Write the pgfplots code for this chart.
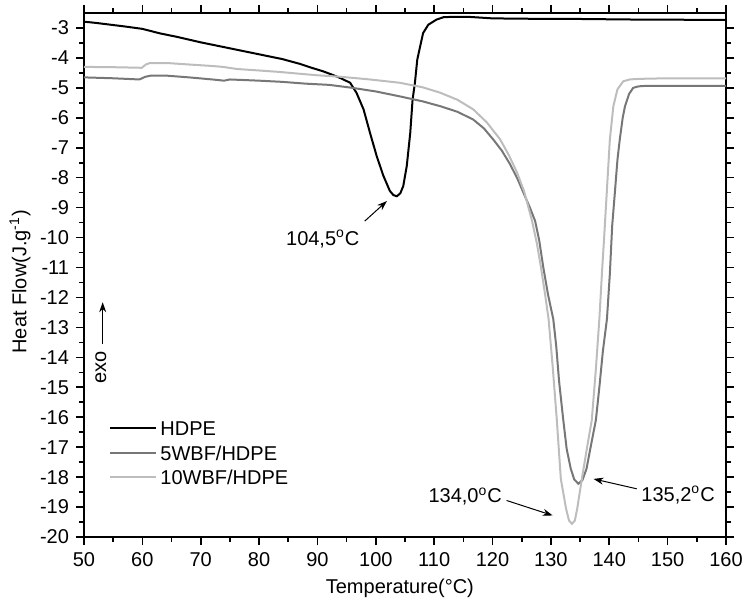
\documentclass[border=0pt]{standalone}
\usepackage{fontspec}
\setmainfont{Liberation Sans}
\usepackage{pgfplots}
\pgfplotsset{compat=1.18}
\usetikzlibrary{arrows.meta,calc}

\definecolor{hdpe}{HTML}{000000}
\definecolor{wbfa}{HTML}{777777}
\definecolor{wbfb}{HTML}{BDBDBD}

\begin{document}
\begin{tikzpicture}
\begin{axis}[
  scale only axis, width=321pt, height=262pt,
  xmin=50, xmax=160, ymin=-20, ymax=-2.5,
  xtick={50,60,...,160},
  xticklabels={50,60,70,80,90,100,110,120,130,140,150,160},
  ytick={-20,-19,...,-3},
  yticklabels={-20,-19,-18,-17,-16,-15,-14,-13,-12,-11,-10,-9,-8,-7,-6,-5,-4,-3},
  xtick pos=both, ytick pos=both,
  xticklabel pos=bottom, yticklabel pos=left,
  minor x tick num=1, minor y tick num=1,
  tick align=outside, major tick length=4pt, minor tick length=2.5pt,
  tick style={black, line width=0.8pt},
  axis line style={line width=1pt},
  font=\fontsize{10}{12}\selectfont,
  xlabel={Temperature(°C)},
  ylabel={Heat Flow(J.g\textsuperscript{-1})},
  xlabel style={at={(axis description cs:0.492,-0.097)}, anchor=center},
  ylabel style={at={(axis description cs:-0.0997,0.487)}, anchor=center},
  legend style={draw=none, fill=none, inner sep=0pt, at={(0.039,0.228)}, anchor=north west,
    font=\fontsize{10}{12}\selectfont, row sep=1.75pt,
    nodes={inner sep=1.5pt, text height=7.5pt, text depth=0pt}},
  legend cell align=left,
  legend image code/.code={\draw[#1] (0pt,0pt) -- (23pt,0pt);},
]
\addplot[hdpe, line width=1pt] coordinates {
(50,-2.79) (52,-2.83) (54.5,-2.89) (57,-2.95) (60,-3.03) (63,-3.18) (66,-3.3) (70,-3.48)
(74,-3.64) (78,-3.8) (81,-3.92) (84,-4.04) (87,-4.2) (89,-4.33) (91,-4.45) (92.5,-4.56)
(93.9,-4.67) (95.6,-4.83) (96.7,-5.17) (97.9,-5.72) (99.0,-6.5) (100.15,-7.28) (101.3,-7.94)
(102.4,-8.44) (103.0,-8.58) (103.6,-8.62) (104.2,-8.52) (104.7,-8.28) (105.3,-7.61)
(105.9,-6.5) (106.3,-5.39) (106.7,-4.83) (107.1,-4.06) (107.6,-3.61) (108.1,-3.17)
(109.0,-2.89) (110.4,-2.72) (111.6,-2.64) (113,-2.63) (116,-2.63) (120,-2.68) (125,-2.69)
(130,-2.7) (135,-2.7) (140,-2.71) (145,-2.72) (150,-2.72) (155,-2.73) (160,-2.73)
};
\addlegendentry{HDPE}
\addplot[wbfa, line width=1pt] coordinates {
(50,-4.65) (55,-4.68) (59.5,-4.72) (60.5,-4.63) (61.5,-4.59) (64,-4.59) (68,-4.65) (72,-4.72)
(74,-4.76) (75,-4.72) (80,-4.76) (84,-4.8) (88,-4.86) (92,-4.9) (96,-5.0) (100,-5.12)
(104,-5.28) (108,-5.45) (111,-5.61) (114,-5.8) (116.7,-6.06) (118.5,-6.35) (120.1,-6.72)
(121.6,-7.1) (123,-7.55) (124.3,-8.05) (125.4,-8.55) (126.4,-9.0) (127.3,-9.45) (128.0,-10.1)
(128.7,-11.0) (129.5,-11.9) (130.4,-12.72) (130.9,-13.6) (131.4,-14.8) (132.1,-16.06)
(132.7,-17.06) (133.4,-17.72) (134.0,-18.08) (134.7,-18.22) (135.4,-18.1) (136.1,-17.72)
(136.8,-17.0) (137.7,-16.1) (138.3,-15.0) (138.9,-13.8) (139.6,-12.72) (140.1,-11.2)
(140.5,-9.6) (141.0,-8.39) (141.4,-7.4) (141.8,-6.72) (142.3,-6.0) (142.7,-5.61) (143.4,-5.2)
(144.1,-5.0) (145,-4.95) (146.5,-4.93) (150,-4.93) (155,-4.93) (160,-4.93)
};
\addlegendentry{5WBF/HDPE}
\addplot[wbfb, line width=1pt] coordinates {
(50,-4.3) (55,-4.31) (59.9,-4.33) (60.6,-4.22) (61.3,-4.17) (64.2,-4.17) (68,-4.22) (72,-4.27)
(73.8,-4.3) (76.2,-4.37) (80,-4.42) (83.6,-4.47) (87,-4.53) (90,-4.58) (94,-4.63) (99,-4.72)
(104.1,-4.83) (108,-4.98) (111,-5.16) (114,-5.4) (116.7,-5.72) (119,-6.15) (121.3,-6.72)
(122.8,-7.25) (124.2,-7.83) (125.4,-8.45) (126.7,-9.39) (127.6,-10.2) (128.3,-11.0)
(129.0,-11.9) (129.6,-12.72) (130.3,-14.3) (131.0,-16.06) (131.7,-18.06) (132.6,-19.06)
(133.1,-19.45) (133.6,-19.56) (134.1,-19.45) (134.5,-19.06) (135.3,-18.06) (136.2,-17.0)
(137.0,-16.1) (137.7,-14.4) (138.3,-12.72) (138.8,-11.0) (139.1,-10.06) (139.3,-9.39)
(139.6,-8.39) (140.1,-6.72) (140.7,-5.61) (141.4,-5.05) (142.4,-4.78) (143.5,-4.72)
(145,-4.7) (150,-4.68) (160,-4.68)
};
\addlegendentry{10WBF/HDPE}

\draw[-{Stealth[length=5pt,width=3.5pt]}, line width=0.5pt] (axis cs:98.1,-9.45) -- (axis cs:101.9,-8.78);
\node[anchor=east, inner sep=1pt] at (axis cs:97.6,-10.05) {104,5\textsuperscript{o}C};
\draw[-{Stealth[length=5pt,width=3.5pt]}, line width=0.5pt] (axis cs:122.4,-18.78) -- (axis cs:130.3,-19.28);
\node[anchor=east, inner sep=1pt] at (axis cs:122.0,-18.65) {134,0\textsuperscript{o}C};
\draw[-{Stealth[length=5pt,width=3.5pt]}, line width=0.5pt] (axis cs:144.7,-18.39) -- (axis cs:137.3,-18.06);
\node[anchor=west, inner sep=1pt] at (axis cs:145.1,-18.6) {135,2\textsuperscript{o}C};
\node[rotate=90, anchor=center, inner sep=0pt] at (axis cs:52.9,-14.34) {exo};
\draw[-{Stealth[length=5pt,width=3.5pt]}, line width=0.5pt] (axis cs:53.2,-13.56) -- (axis cs:53.2,-12.16);
\end{axis}
\pgfresetboundingbox
\path[use as bounding box] ($(current axis.south west)+(-42pt,-34.5pt)$) rectangle ($(current axis.north east)+(8pt,6.5pt)$);
\end{tikzpicture}
\end{document}
